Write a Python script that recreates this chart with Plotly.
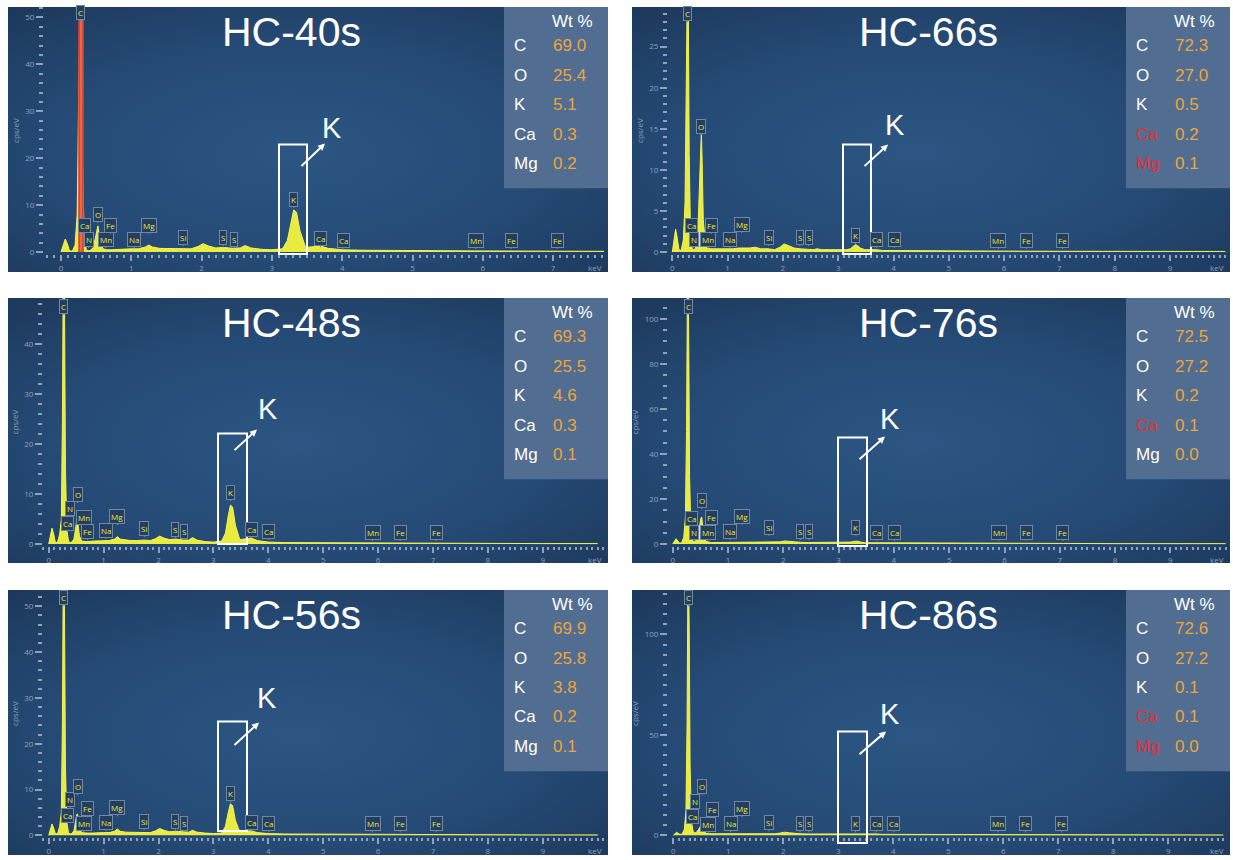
import base64
import plotly.graph_objects as go

W, H = 1233, 860

# ---------------- data ----------------
energy_kev = [0.00, 0.03, 0.06, 0.09, 0.12, 0.16, 0.20, 0.23, 0.25, 0.265,
              0.277, 0.29, 0.305, 0.33, 0.36, 0.39, 0.42, 0.46, 0.49, 0.51,
              0.525, 0.54, 0.56, 0.60, 0.65, 0.70, 0.80, 0.90, 1.00, 1.10,
              1.20, 1.25, 1.30, 1.40, 1.50, 1.60, 1.74, 1.85, 1.95, 2.02,
              2.10, 2.20, 2.31, 2.45, 2.55, 2.62, 2.70, 2.85, 3.00, 3.15,
              3.22, 3.27, 3.31, 3.35, 3.40, 3.48, 3.59, 3.69, 3.80, 4.00,
              4.30, 5.00, 6.00, 7.00, 8.00, 9.00, 10.00]

cps_hc40 = [0.0, 1.2, 2.8, 1.8, 0.3, 0.2, 1.5, 8.0, 30, 58,
            62, 50, 20, 3.0, 0.5, 0.3, 0.4, 1.0, 3.5, 5.2,
            5.6, 4.2, 2.0, 0.7, 0.5, 0.5, 0.6, 0.6, 0.7, 0.7,
            1.1, 1.5, 1.1, 0.8, 0.8, 0.7, 0.8, 0.7, 1.2, 1.8,
            1.3, 0.9, 1.0, 0.8, 0.9, 1.4, 0.9, 0.6, 0.5, 0.7,
            2.5, 6.5, 9.0, 8.5, 4.5, 1.0, 1.2, 1.3, 0.8, 0.5,
            0.4, 0.3, 0.25, 0.2, 0.15, 0.1, 0.1]

cps_hc66 = [0.0, 1.2, 2.8, 1.7, 0.3, 0.2, 1.5, 6.0, 18, 32,
            36, 30, 12, 2.0, 0.4, 0.3, 0.5, 2.0, 9.0, 13.5,
            14.6, 11.0, 4.0, 0.8, 0.5, 0.4, 0.4, 0.4, 0.4, 0.4,
            0.5, 0.5, 0.5, 0.5, 0.6, 0.4, 0.4, 0.3, 0.6, 1.0,
            0.8, 0.5, 0.4, 0.3, 0.3, 0.4, 0.3, 0.3, 0.3, 0.3,
            0.4, 0.7, 0.9, 0.8, 0.5, 0.3, 0.3, 0.3, 0.2, 0.2,
            0.2, 0.15, 0.12, 0.1, 0.1, 0.08, 0.08]

cps_hc48 = [0.0, 1.5, 3.2, 2.0, 0.4, 0.3, 2.0, 5.0, 25, 55,
            60, 45, 15, 3.0, 0.6, 0.3, 0.4, 1.0, 3.5, 4.6,
            4.8, 3.5, 1.6, 0.6, 0.5, 0.5, 0.6, 0.6, 0.6, 0.7,
            1.0, 1.5, 1.0, 0.8, 0.7, 0.7, 0.8, 0.7, 1.1, 1.6,
            1.2, 0.9, 1.0, 0.8, 0.8, 1.3, 0.8, 0.5, 0.4, 0.6,
            2.2, 5.6, 7.8, 7.4, 3.8, 0.9, 1.0, 1.2, 0.7, 0.4,
            0.3, 0.25, 0.2, 0.15, 0.12, 0.1, 0.1]

cps_hc76 = [0.0, 1.2, 2.4, 1.5, 0.5, 0.5, 3.0, 12, 50, 110,
            125, 90, 30, 6.0, 1.5, 1.0, 1.5, 4.0, 9.0, 11.5,
            12.0, 9.0, 4.0, 1.2, 0.8, 0.7, 0.7, 0.7, 0.7, 0.7,
            0.8, 0.9, 0.8, 0.7, 0.7, 0.7, 0.7, 0.7, 1.0, 1.4,
            1.2, 0.9, 0.8, 0.7, 0.7, 0.8, 0.7, 0.6, 0.6, 0.7,
            0.9, 1.2, 1.4, 1.3, 0.9, 0.6, 0.6, 0.6, 0.5, 0.5,
            0.4, 0.4, 0.3, 0.3, 0.2, 0.2, 0.2]

cps_hc56 = [0.0, 1.2, 2.5, 1.6, 0.4, 0.3, 2.0, 5.0, 25, 58,
            62, 45, 15, 3.0, 0.6, 0.3, 0.4, 1.0, 3.4, 4.5,
            4.7, 3.4, 1.5, 0.6, 0.5, 0.5, 0.5, 0.6, 0.6, 0.6,
            0.9, 1.4, 0.9, 0.7, 0.7, 0.6, 0.7, 0.6, 1.0, 1.5,
            1.1, 0.8, 0.9, 0.7, 0.7, 1.1, 0.7, 0.5, 0.4, 0.5,
            2.0, 5.0, 6.9, 6.5, 3.3, 0.8, 0.9, 1.0, 0.6, 0.4,
            0.3, 0.25, 0.2, 0.15, 0.12, 0.1, 0.1]

cps_hc86 = [0.0, 0.8, 1.6, 1.0, 0.5, 0.6, 3.0, 12, 55, 125,
            135, 100, 35, 7.0, 2.0, 1.2, 1.5, 3.0, 4.5, 5.2,
            5.4, 4.0, 2.0, 1.0, 0.8, 0.8, 0.8, 0.8, 0.8, 0.8,
            0.9, 1.0, 0.9, 0.8, 0.8, 0.8, 0.8, 0.8, 1.2, 1.6,
            1.3, 0.9, 0.8, 0.7, 0.7, 0.8, 0.7, 0.6, 0.6, 0.6,
            0.7, 0.8, 0.9, 0.85, 0.7, 0.6, 0.6, 0.7, 0.5, 0.5,
            0.4, 0.4, 0.3, 0.3, 0.2, 0.2, 0.2]

sample_names = ["HC-40s", "HC-66s", "HC-48s", "HC-76s", "HC-56s", "HC-86s"]

wt_elements = ["C", "O", "K", "Ca", "Mg"]
wt_hc40 = [69.0, 25.4, 5.1, 0.3, 0.2]
wt_hc66 = [72.3, 27.0, 0.5, 0.2, 0.1]
wt_hc48 = [69.3, 25.5, 4.6, 0.3, 0.1]
wt_hc76 = [72.5, 27.2, 0.2, 0.1, 0.0]
wt_hc56 = [69.9, 25.8, 3.8, 0.2, 0.1]
wt_hc86 = [72.6, 27.2, 0.1, 0.1, 0.0]

line_names = ["C", "Ca", "N", "O", "Mn", "Fe", "Na", "Mg", "Si", "S", "S",
              "K", "Ca", "Ca", "Mn", "Fe", "Fe"]
line_kev = [0.277, 0.341, 0.392, 0.525, 0.637, 0.705, 1.041, 1.253, 1.740,
            2.307, 2.464, 3.313, 3.691, 4.012, 5.898, 6.403, 7.057]

spectra = [cps_hc40, cps_hc66, cps_hc48, cps_hc76, cps_hc56, cps_hc86]
wt_values = [wt_hc40, wt_hc66, wt_hc48, wt_hc76, wt_hc56, wt_hc86]
for s in spectra:
    assert len(s) == len(energy_kev)

# ---------------- layout geometry (pixels) ----------------
panels = [
    dict(bg=(8, 608, 7, 273), pa=(44, 604, 7, 255), x0=61.0, kx=70.3, y0=253.0, ky=4.71, dy=10, my=2, xmax=7),
    dict(bg=(632, 1230, 7, 273), pa=(668, 1226, 7, 255), x0=672.3, kx=55.3, y0=253.0, ky=8.25, dy=5, my=1, xmax=9),
    dict(bg=(8, 608, 299, 565), pa=(43, 604, 299, 548), x0=48.7, kx=54.9, y0=546.0, ky=5.02, dy=10, my=2, xmax=9),
    dict(bg=(632, 1230, 299, 565), pa=(668, 1226, 299, 548), x0=672.7, kx=55.3, y0=546.0, ky=2.26, dy=20, my=5, xmax=9),
    dict(bg=(8, 608, 592, 858), pa=(43, 604, 592, 840), x0=48.7, kx=54.9, y0=838.3, ky=4.6, dy=10, my=2, xmax=9),
    dict(bg=(632, 1230, 592, 858), pa=(668, 1226, 592, 840), x0=673.3, kx=55.0, y0=838.3, ky=2.016, dy=50, my=5, xmax=9),
]

label_offsets = [
    [240, 27, 13, 38, 13, 27, 13, 27, 15, 15, 13, 53, 14, 12, 12, 12, 12],
    [239, 27, 13, 126, 13, 27, 13, 28, 15, 15, 15, 17, 13, 13, 12, 12, 12],
    [238, 21, 36, 50, 27, 13, 14, 28, 16, 15, 13, 52, 15, 13, 12, 12, 12],
    [238, 26, 12, 44, 12, 27, 13, 28, 17, 13, 13, 17, 12, 12, 12, 12, 12],
    [238, 20, 36, 49, 12, 27, 13, 28, 14, 14, 12, 42, 13, 12, 12, 12, 12],
    [238, 19, 34, 49, 11, 26, 12, 27, 13, 12, 12, 12, 12, 12, 12, 12, 12],
]
red_names = [set(), {"Ca", "Mg"}, set(), {"Ca"}, set(), {"Ca", "Mg"}]

kbox = [(279, 307, 145, 255), (843, 871, 145, 255), (218, 247, 435, 546),
        (838, 867, 439, 548), (218, 247, 724, 834), (838, 867, 734, 846)]
karrow = [((300, 168), (325, 144)), ((863, 168), (888, 145)), ((233, 453), (257, 431)),
          ((858, 462), (885, 438)), ((233, 749), (259, 725)), ((858, 758), (886, 734))]
ktext = [(332, 128), (895, 125), (268, 410), (890, 420), (267, 700), (890, 716)]
title_cx = [291, 928, 291, 928, 291, 928]


def px(x):
    return x / W


def py(y):
    return 1 - y / H


TICK = "#8da2bc"
YEL = "#e9ec3e"

svg = ("<svg xmlns='http://www.w3.org/2000/svg' width='600' height='266' preserveAspectRatio='none'>"
       "<defs><radialGradient id='g' cx='48%' cy='55%' r='75%'>"
       "<stop offset='0' stop-color='#2c5683'/><stop offset='0.55' stop-color='#254a75'/>"
       "<stop offset='1' stop-color='#1c3759'/></radialGradient></defs>"
       "<rect width='600' height='266' fill='url(#g)'/></svg>")
bg_src = "data:image/svg+xml;base64," + base64.b64encode(svg.encode()).decode()

fig = go.Figure()
layout_axes = {}
images, shapes, annots = [], [], []

for i, p in enumerate(panels):
    n = i + 1
    xr = "x" if n == 1 else f"x{n}"
    yr = "y" if n == 1 else f"y{n}"
    xk = "xaxis" if n == 1 else f"xaxis{n}"
    yk = "yaxis" if n == 1 else f"yaxis{n}"
    l, r, t, b = p["pa"]
    xrange = [(l - p["x0"]) / p["kx"], (r - p["x0"]) / p["kx"]]
    yrange = [(p["y0"] - b) / p["ky"], (p["y0"] - t) / p["ky"]]

    fig.add_trace(go.Scatter(x=energy_kev, y=spectra[i], mode="lines", fill="tozeroy",
                             line=dict(color="#f1f35a", width=1), fillcolor=YEL,
                             xaxis=xr, yaxis=yr, hoverinfo="skip", showlegend=False))

    layout_axes[xk] = dict(domain=[px(l), px(r)], anchor=yr, range=xrange,
                           tickmode="array", tickvals=list(range(0, p["xmax"] + 1)),
                           ticks="outside", ticklen=6, tickwidth=1.5, tickcolor=TICK,
                           minor=dict(dtick=0.1, tick0=0, ticks="outside", ticklen=3,
                                      tickwidth=1.5, tickcolor=TICK),
                           tickfont=dict(family="Open Sans", size=8, color=TICK),
                           showgrid=False, zeroline=False, showline=False, fixedrange=True)
    layout_axes[yk] = dict(domain=[py(b), py(t)], anchor=xr, range=yrange,
                           tickmode="linear", tick0=0, dtick=p["dy"],
                           ticks="outside", ticklen=7, tickwidth=1.5, tickcolor=TICK,
                           minor=dict(dtick=p["my"], tick0=0, ticks="outside", ticklen=4,
                                      tickwidth=1.5, tickcolor=TICK),
                           tickfont=dict(family="Open Sans", size=8, color=TICK),
                           title=dict(text="cps/eV", font=dict(family="Open Sans", size=8, color=TICK),
                                      standoff=4),
                           showgrid=False, zeroline=False, showline=False, fixedrange=True)

    bl, br, bt, bb = p["bg"]
    images.append(dict(source=bg_src, xref="paper", yref="paper", x=px(bl), y=py(bt),
                       sizex=(br - bl) / W, sizey=(bb - bt) / H, sizing="stretch",
                       xanchor="left", yanchor="top", layer="below"))

    # title
    annots.append(dict(text=sample_names[i], xref="paper", yref="paper", x=px(title_cx[i]),
                       y=py(bt + 25), xanchor="center", yanchor="middle", showarrow=False,
                       font=dict(family="Liberation Sans, Arial", size=41, color="white")))

    # keV label
    annots.append(dict(text="keV", xref="paper", yref="paper", x=px(br - 4), y=py(p["y0"] + 15),
                       xanchor="right", yanchor="middle", showarrow=False,
                       font=dict(family="Open Sans", size=8, color=TICK)))

    # Wt% table box
    wl = br - 104
    shapes.append(dict(type="rect", xref="paper", yref="paper", x0=px(wl), x1=px(br),
                       y0=py(bt + 182), y1=py(bt), fillcolor="#516d91", line=dict(width=0),
                       layer="above"))
    annots.append(dict(text="Wt %", xref="paper", yref="paper", x=px(wl + 68), y=py(bt + 15),
                       xanchor="center", yanchor="middle", showarrow=False,
                       font=dict(family="Liberation Sans, Arial", size=17, color="white")))
    for j, el in enumerate(wt_elements):
        ry = bt + 39 + j * 29.5
        col = "#e0312f" if el in red_names[i] else "white"
        annots.append(dict(text=el, xref="paper", yref="paper", x=px(wl + 8), y=py(ry),
                           xanchor="left", yanchor="middle", showarrow=False,
                           font=dict(family="Liberation Sans, Arial", size=17, color=col)))
        annots.append(dict(text=f"{wt_values[i][j]:.1f}", xref="paper", yref="paper",
                           x=px(wl + 47), y=py(ry), xanchor="left", yanchor="middle",
                           showarrow=False,
                           font=dict(family="Liberation Sans, Arial", size=17, color="#eda53e")))

    # red highlight of C peak (first panel)
    if i == 0:
        shapes.append(dict(type="rect", xref=xr, yref=yr, x0=0.245, x1=0.325, y0=0,
                           y1=yrange[1], fillcolor="#d8433c", line=dict(width=0), layer="above"))
        shapes.append(dict(type="rect", xref=xr, yref=yr, x0=0.272, x1=0.298, y0=0,
                           y1=yrange[1], fillcolor="#ee7c3b", line=dict(width=0),
                           opacity=0.8, layer="above"))

    # element line labels
    for j, (nm, e) in enumerate(zip(line_names, line_kev)):
        if e > xrange[1]:
            continue
        off = label_offsets[i][j]
        annots.append(dict(text=nm, xref=xr, yref=yr, x=e, y=0, yshift=off - 9,
                           showarrow=True, ax=0, ay=-9, arrowhead=0, arrowwidth=1,
                           arrowcolor="#6f88a6", standoff=0,
                           bgcolor="#243e5f", bordercolor="#6f88a6", borderwidth=1, borderpad=1,
                           font=dict(family="Open Sans", size=8, color="#e8ea45")))

    # K highlight box, arrow and label
    kl, kr, kt, kb = kbox[i]
    shapes.append(dict(type="rect", xref="paper", yref="paper", x0=px(kl), x1=px(kr),
                       y0=py(kb), y1=py(kt), line=dict(color="white", width=2),
                       fillcolor="rgba(0,0,0,0)", layer="above"))
    (tx, ty), (hx, hy) = karrow[i]
    annots.append(dict(text="", xref="paper", yref="paper", x=px(hx), y=py(hy),
                       ax=tx - hx, ay=ty - hy, showarrow=True, arrowhead=2, arrowsize=0.7,
                       arrowwidth=2, arrowcolor="white"))
    annots.append(dict(text="K", xref="paper", yref="paper", x=px(ktext[i][0]), y=py(ktext[i][1]),
                       xanchor="center", yanchor="middle", showarrow=False,
                       font=dict(family="Liberation Sans, Arial", size=29, color="white")))

fig.update_layout(width=W, height=H, margin=dict(l=0, r=0, t=0, b=0),
                  paper_bgcolor="white", plot_bgcolor="rgba(0,0,0,0)",
                  showlegend=False, images=images, shapes=shapes, annotations=annots,
                  **layout_axes)

fig.write_html("out.html")
